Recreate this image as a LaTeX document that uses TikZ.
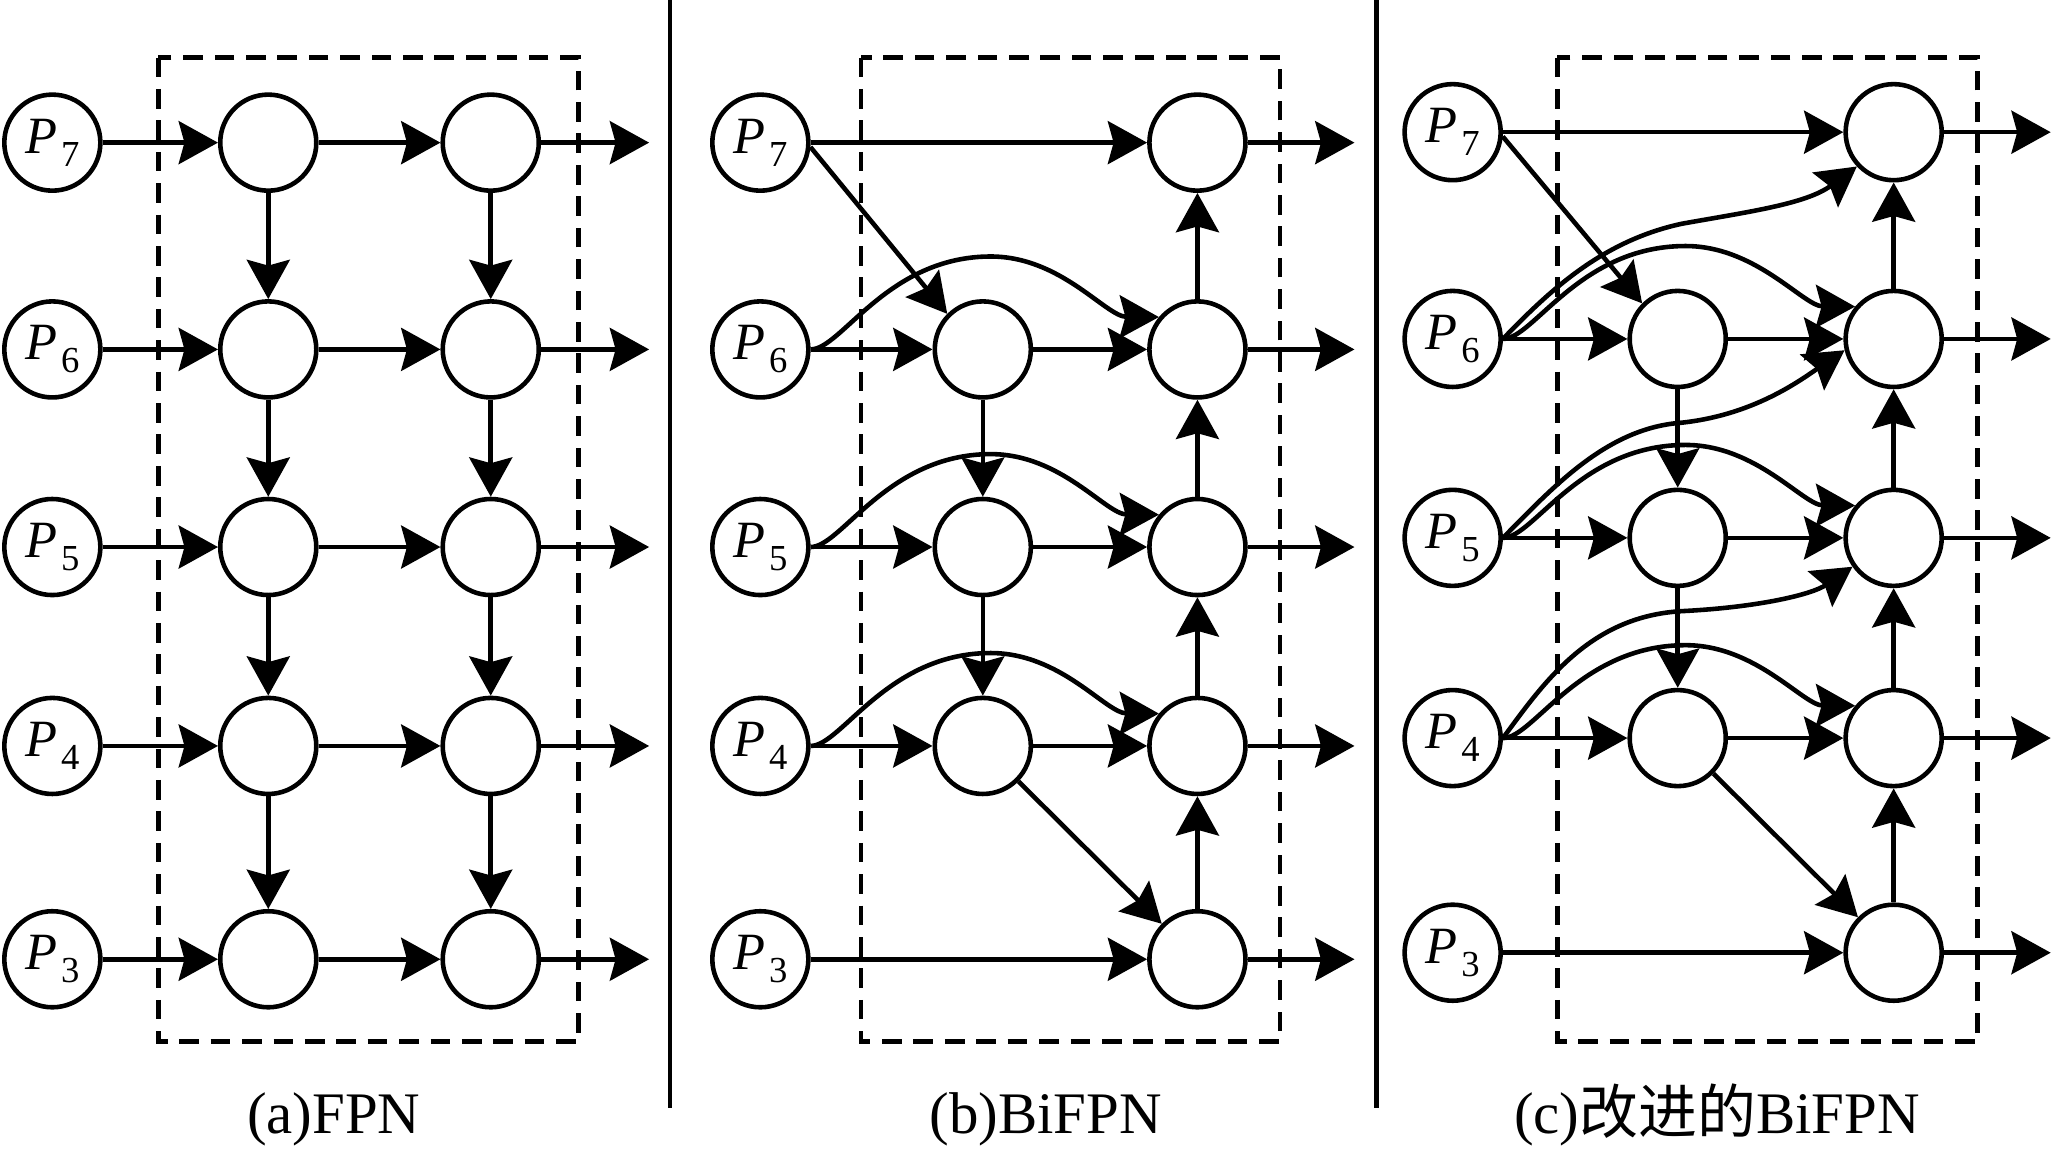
\documentclass[tikz,border=0pt]{standalone}
\usepackage{fontspec}
\setmainfont{Liberation Serif}
\newfontfamily\cjkfont{Noto Sans CJK SC}
\usetikzlibrary{arrows.meta}
\newcommand{\Plab}[1]{{\fontsize{20pt}{20pt}\selectfont\itshape P}\hspace{1.5pt}\raisebox{-4.9pt}{\fontsize{14pt}{14pt}\selectfont #1}}
\begin{document}
\begin{tikzpicture}[x=0.5pt,y=-0.5pt,
  nd/.style={circle,draw,line width=1.75pt,minimum size=36.7pt,inner sep=0pt},
  ar/.style={-{Stealth[length=15pt,width=16.4pt,inset=2.2pt]},line width=1.75pt},
  ln/.style={line width=1.8pt},
  dbox/.style={line width=1.75pt,dash pattern=on 7.5pt off 4.5pt},
  captxt/.style={anchor=base,font=\fontsize{22.5pt}{24pt}\selectfont}]
\useasboundingbox (0,0) rectangle (1568,882);
% dividers and boxes
\draw[ln] (512,0) -- (512,847);
\draw[ln] (1052,0) -- (1052,847);
\draw[dbox] (121,44) rectangle (442,796);
\draw[dbox] (658,44) rectangle (978,796);
\draw[dbox] (1190,44) rectangle (1511,796);
% ---------------- (a) FPN
\foreach \i/\y in {7/109,6/267,5/418,4/570,3/733}{
  \node[nd] (aP\i) at (40,\y) {\Plab{\i}};
  \node[nd] (aA\i) at (205,\y) {};
  \node[nd] (aB\i) at (375,\y) {};
  \coordinate (aO\i) at (496,\y);
  \draw[ar] (aP\i) -- (aA\i);
  \draw[ar] (aA\i) -- (aB\i);
  \draw[ar] (aB\i) -- (aO\i);
}
\foreach \i/\j in {7/6,6/5,5/4,4/3}{
  \draw[ar] (aA\i) -- (aA\j);
  \draw[ar] (aB\i) -- (aB\j);
}
% ---------------- (b) BiFPN
\foreach \i/\y in {7/109,6/267,5/418,4/570,3/733}{
  \node[nd] (bP\i) at (581,\y) {\Plab{\i}};
  \node[nd] (bR\i) at (915,\y) {};
  \coordinate (bO\i) at (1035,\y);
  \draw[ar] (bR\i) -- (bO\i);
}
\foreach \i/\y in {6/267,5/418,4/570}{
  \node[nd] (bM\i) at (751,\y) {};
  \draw[ar] (bP\i) -- (bM\i);
  \draw[ar] (bM\i) -- (bR\i);
  \draw[ar] (bP\i.east) .. controls (643,\y) and (678,\y-71) .. (757,\y-71)
     .. controls (811,\y-71) and (845,\y-25) .. (bR\i.140);
}
\draw[ar] (bP7) -- (bR7);
\draw[ar] (bP7.-5) -- (bM6.135);
\draw[ar] (bM6) -- (bM5);
\draw[ar] (bM5) -- (bM4);
\draw[ar] (bM4) -- (bR3);
\draw[ar] (bP3) -- (bR3);
\foreach \i/\j in {3/4,4/5,5/6,6/7}{
  \draw[ar] (bR\i) -- (bR\j);
}
% ---------------- (c) improved BiFPN
\foreach \i/\y in {7/101,6/259,5/411,4/564,3/728}{
  \node[nd] (cP\i) at (1110,\y) {\Plab{\i}};
  \node[nd] (cR\i) at (1447,\y) {};
  \coordinate (cO\i) at (1567,\y);
  \draw[ar] (cR\i) -- (cO\i);
}
\foreach \i/\y in {6/259,5/411,4/564}{
  \node[nd] (cM\i) at (1282,\y) {};
  \draw[ar] (cP\i) -- (cM\i);
  \draw[ar] (cM\i) -- (cR\i);
  \draw[ar] (cP\i.east) .. controls (1172,\y) and (1207,\y-71) .. (1288,\y-71)
     .. controls (1342,\y-71) and (1378,\y-25) .. (cR\i.140);
}
\draw[ar] (cP7) -- (cR7);
\draw[ar] (cP7.-5) -- (cM6.135);
\draw[ar] (cM6) -- (cM5);
\draw[ar] (cM5) -- (cM4);
\draw[ar] (cM4) -- (cR3);
\draw[ar] (cP3) -- (cR3);
\foreach \i/\j in {3/4,4/5,5/6,6/7}{
  \draw[ar] (cR\i) -- (cR\j);
}
\draw[ar] (cP6.east) .. controls (1185,221) and (1225,184) .. (1285,171)
   .. controls (1335,162) and (1380,156) .. (cR7.223);
\draw[ar] (cP5.east) .. controls (1187,372) and (1228,327) .. (1285,323)
   .. controls (1340,317) and (1375,291) .. (cR6.193);
\draw[ar] (cP4.east) .. controls (1180,521) and (1215,471) .. (1285,467)
   .. controls (1345,464) and (1385,454) .. (cR5.215);
% captions
\node[captxt] (capA) at (255,866) {(a)FPN};
\node[captxt] (capB) at (799,866) {(b)BiFPN};
\node[captxt] (capC) at (1312,866) {(c){\cjkfont 改进的}BiFPN};
\end{tikzpicture}
\end{document}
